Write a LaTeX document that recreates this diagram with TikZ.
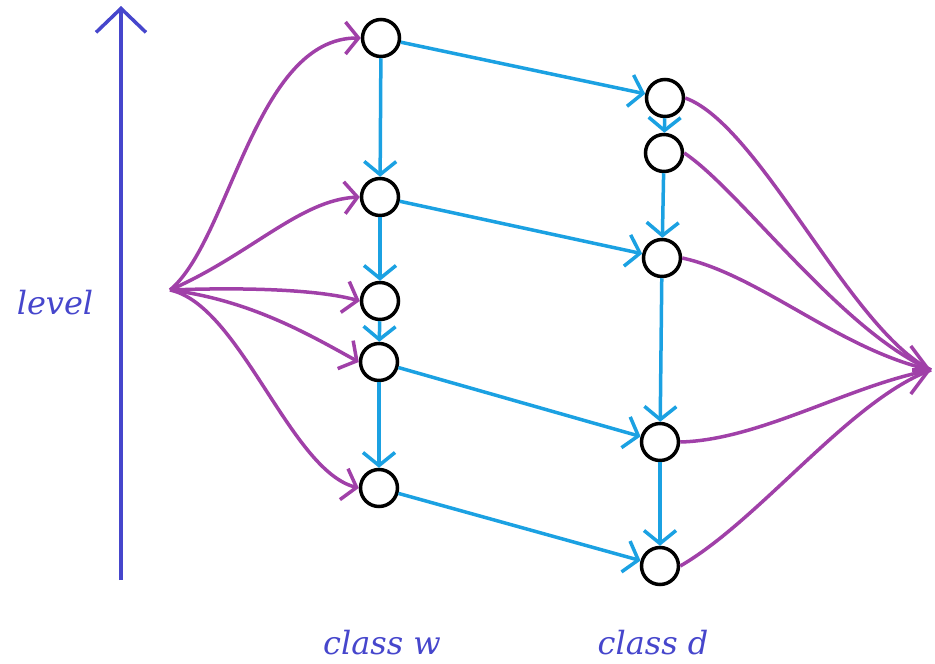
\documentclass[tikz,border=0pt]{standalone}
\usepackage{fontspec}
\setmainfont{DejaVu Serif}
\usetikzlibrary{arrows.meta}
\definecolor{cblue}{HTML}{1BA1E2}
\definecolor{cpurple}{HTML}{A040A8}
\definecolor{clevel}{HTML}{4646CC}
\begin{document}
\begin{tikzpicture}[x=1pt,y=-1pt,
  st/.style={circle,draw=black,line width=3.5pt,minimum size=37pt,inner sep=0pt,fill=white},
  ed/.style={cblue,line width=3.5pt,-{Straight Barb[length=13pt,width=32pt,line width=3.5pt]}},
  pe/.style={cpurple,line width=3.5pt,-{Straight Barb[length=13pt,width=32pt,line width=3.5pt]}},
  pc/.style={cpurple,line width=3.5pt},
  pr/.style={cpurple,line width=3.5pt,-{Straight Barb[length=18pt,width=48pt,line width=3.5pt]}},
  lab/.style={text=clevel,font=\itshape\fontsize{32}{36}\selectfont}]
\useasboundingbox (0,0) rectangle (935,664);
\node[st] (a1) at (381,38) {};
\node[st] (a2) at (380,197) {};
\node[st] (a3) at (380,301) {};
\node[st] (a4) at (379,362) {};
\node[st] (a5) at (379,488) {};
\node[st] (b1) at (665,98) {};
\node[st] (b2) at (664,153) {};
\node[st] (b3) at (662,258) {};
\node[st] (b4) at (660,442) {};
\node[st] (b5) at (660,566) {};
\coordinate (src) at (170,290);
\coordinate (snkb) at (912,370);
\coordinate (snk) at (931,370);
\coordinate (lvl0) at (121,580);
\coordinate (lvl1) at (121,6);
\draw[clevel,line width=3.5pt,-{Straight Barb[length=24pt,width=50pt,line width=3.5pt]}] (lvl0) -- (lvl1);
\node[lab] (lev) at (55,303) {level};
\node[lab] (cw) at (382,643) {class w};
\node[lab] (cd) at (653,643) {class d};
% blue edges
\draw[ed] (a1) -- (b1);
\draw[ed] (a1) -- (a2);
\draw[ed] (a2) -- (a3);
\draw[ed] (a2) -- (b3);
\draw[ed] (a3) -- (a4);
\draw[ed] (a4) -- (b4);
\draw[ed] (a4) -- (a5);
\draw[ed] (a5) -- (b5);
\draw[ed] (b1) -- (b2);
\draw[ed] (b2) -- (b3);
\draw[ed] (b3) -- (b4);
\draw[ed] (b4) -- (b5);
% purple edges
\draw[pe] (src) .. controls (230,240) and (255,38) .. (a1.west);
\draw[pe] (src) .. controls (250,255) and (300,200) .. (a2.west);
\draw[pe] (src) .. controls (250,287) and (320,290) .. (a3.west);
\draw[pe] (src) .. controls (250,300) and (310,335) .. (a4.west);
\draw[pe] (src) .. controls (240,305) and (290,470) .. (a5.west);
\draw[pc] (b1.east) .. controls (760,125) and (850,330) .. (snk);
\draw[pc] (b2.east) .. controls (740,190) and (840,330) .. (snk);
\draw[pc] (b3.east) .. controls (760,275) and (840,350) .. (snk);
\draw[pc] (b4.east) .. controls (760,440) and (850,385) .. (snk);
\draw[pc] (b5.east) .. controls (760,520) and (850,400) .. (snk);
\draw[pr] (snkb) -- (snk);
\end{tikzpicture}
\end{document}
